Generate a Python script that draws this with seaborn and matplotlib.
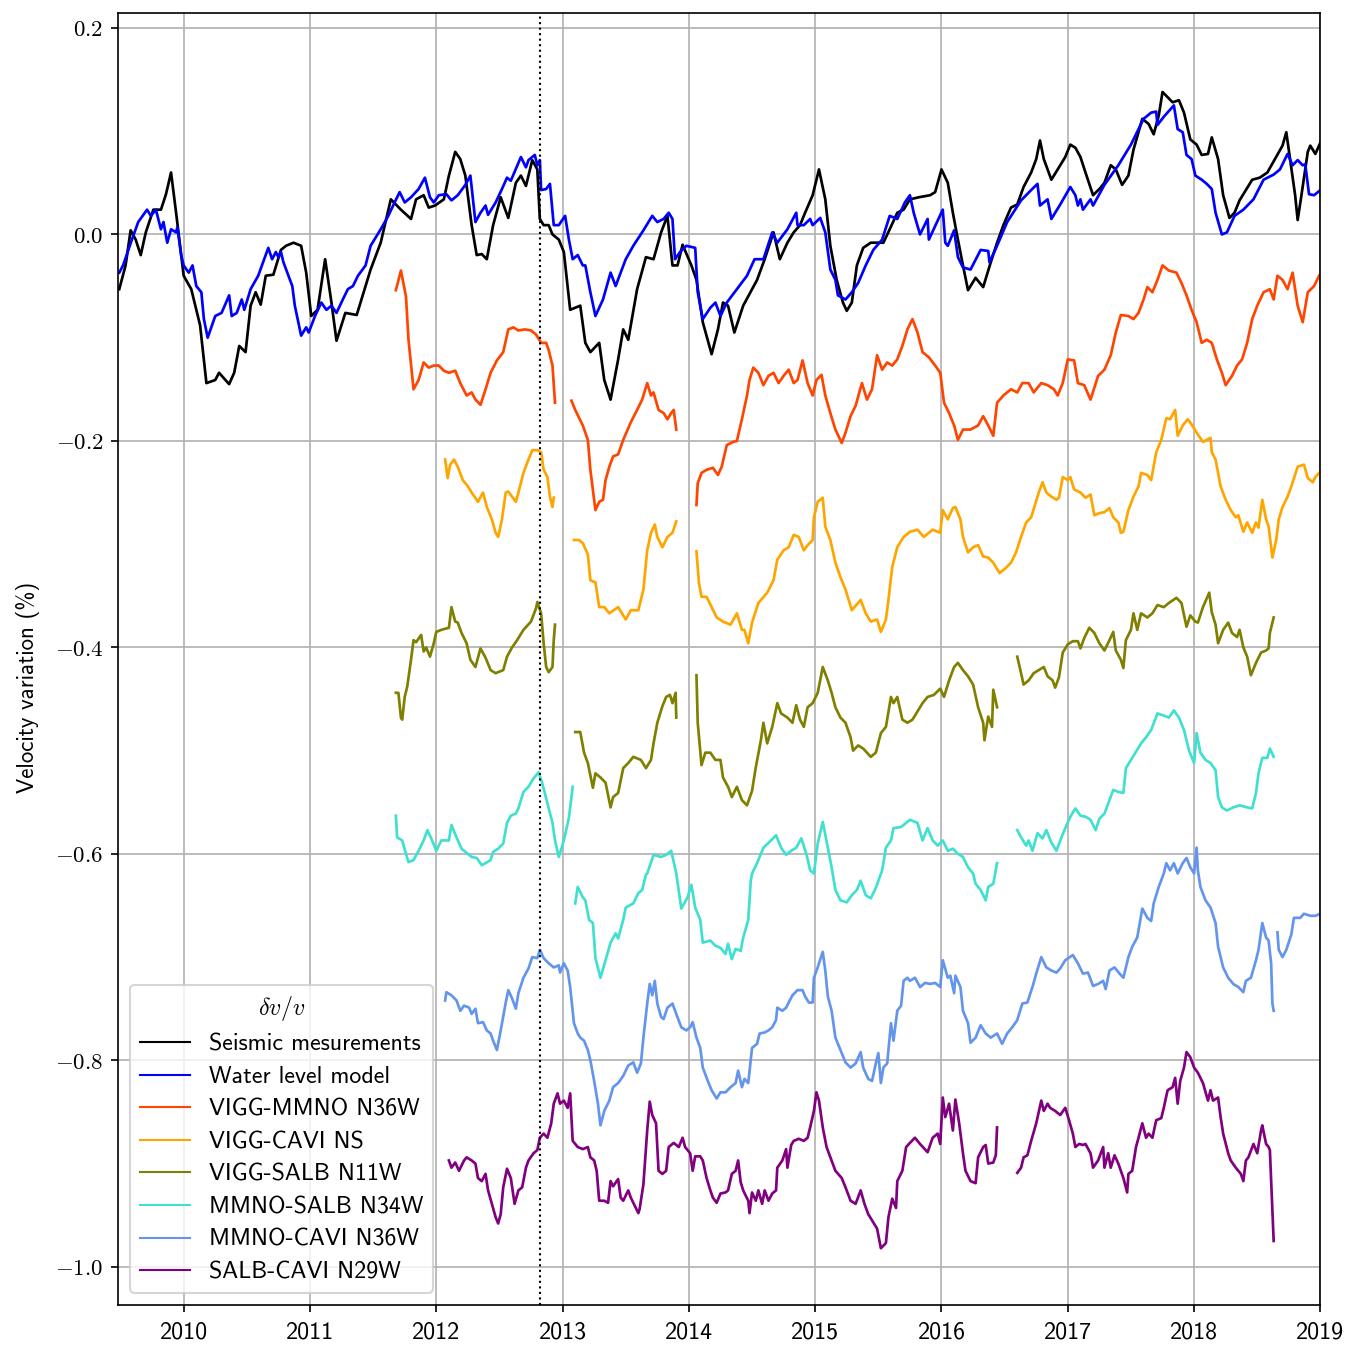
import matplotlib
matplotlib.use("Agg")
import matplotlib.pyplot as plt
from matplotlib.lines import Line2D
from matplotlib.ticker import FuncFormatter
import pandas as pd
import seaborn as sns

# ---------------- data (decimal year, dv/v %) ----------------
series_names = ["Seismic mesurements", "Water level model", "VIGG-MMNO N36W",
                "VIGG-CAVI NS", "VIGG-SALB N11W", "MMNO-SALB N34W",
                "MMNO-CAVI N36W", "SALB-CAVI N29W"]
series_colors = ["black", "blue", "orangered", "orange", "olive",
                 "turquoise", "cornflowerblue", "purple"]
x_ticks = [2010, 2011, 2012, 2013, 2014, 2015, 2016, 2017, 2018, 2019]
y_ticks = [-1.0, -0.8, -0.6, -0.4, -0.2, 0.0, 0.2]
event_year = 2012.82

seismic = [[
    (2009.49, -0.053), (2009.54, -0.030), (2009.58, 0.004), (2009.62, -0.005), (2009.66, -0.020),
    (2009.70, 0.002), (2009.76, 0.024), (2009.82, 0.024), (2009.86, 0.039), (2009.90, 0.060),
    (2009.94, 0.021), (2010.00, -0.040), (2010.06, -0.053), (2010.13, -0.088), (2010.18, -0.144),
    (2010.25, -0.141), (2010.28, -0.134), (2010.36, -0.145), (2010.40, -0.134), (2010.44, -0.108),
    (2010.49, -0.114), (2010.53, -0.069), (2010.57, -0.056), (2010.61, -0.068), (2010.65, -0.040),
    (2010.71, -0.039), (2010.77, -0.015), (2010.81, -0.011), (2010.87, -0.008), (2010.93, -0.011),
    (2010.97, -0.037), (2011.01, -0.079), (2011.06, -0.073), (2011.12, -0.024), (2011.17, -0.066),
    (2011.21, -0.103), (2011.28, -0.076), (2011.37, -0.078), (2011.44, -0.050), (2011.48, -0.034),
    (2011.56, -0.008), (2011.64, 0.034), (2011.72, 0.024), (2011.80, 0.015), (2011.84, 0.034),
    (2011.90, 0.038), (2011.94, 0.026), (2011.99, 0.028), (2012.06, 0.034), (2012.10, 0.057),
    (2012.15, 0.080), (2012.19, 0.073), (2012.23, 0.057), (2012.28, 0.009), (2012.32, -0.020),
    (2012.36, -0.019), (2012.40, -0.024), (2012.45, 0.009), (2012.51, 0.036), (2012.57, 0.016),
    (2012.63, 0.050), (2012.67, 0.057), (2012.71, 0.047), (2012.76, 0.072), (2012.80, 0.063),
    (2012.82, 0.015), (2012.85, 0.009), (2012.89, 0.009), (2012.92, 0.000), (2012.97, -0.005),
    (2013.01, -0.017), (2013.06, -0.073), (2013.14, -0.069), (2013.18, -0.105), (2013.22, -0.114),
    (2013.29, -0.105), (2013.33, -0.141), (2013.38, -0.160), (2013.44, -0.121), (2013.48, -0.092),
    (2013.52, -0.102), (2013.59, -0.053), (2013.66, -0.022), (2013.72, -0.024), (2013.78, 0.002),
    (2013.83, 0.018), (2013.87, -0.030), (2013.91, -0.030), (2013.95, -0.010), (2014.02, -0.030),
    (2014.06, -0.044), (2014.11, -0.085), (2014.18, -0.116), (2014.23, -0.092), (2014.27, -0.066),
    (2014.31, -0.069), (2014.36, -0.095), (2014.43, -0.069), (2014.54, -0.044), (2014.60, -0.024),
    (2014.67, 0.002), (2014.72, -0.024), (2014.78, -0.008), (2014.83, 0.002), (2014.88, 0.009),
    (2014.92, 0.021), (2014.98, 0.038), (2015.03, 0.063), (2015.08, 0.034), (2015.12, -0.011),
    (2015.17, -0.044), (2015.22, -0.066), (2015.25, -0.074), (2015.29, -0.066), (2015.33, -0.030),
    (2015.38, -0.013), (2015.44, -0.008), (2015.49, -0.008), (2015.54, -0.008), (2015.59, 0.005),
    (2015.65, 0.021), (2015.70, 0.024), (2015.75, 0.034), (2015.82, 0.036), (2015.91, 0.038),
    (2015.95, 0.041), (2016.00, 0.063), (2016.05, 0.050), (2016.09, 0.021), (2016.13, -0.005),
    (2016.17, -0.030), (2016.21, -0.054), (2016.27, -0.042), (2016.33, -0.051), (2016.39, -0.027),
    (2016.44, -0.008), (2016.49, 0.009), (2016.55, 0.026), (2016.60, 0.029), (2016.65, 0.046),
    (2016.71, 0.060), (2016.75, 0.073), (2016.78, 0.091), (2016.81, 0.073), (2016.87, 0.053),
    (2016.92, 0.063), (2016.98, 0.075), (2017.02, 0.087), (2017.06, 0.084), (2017.10, 0.075),
    (2017.14, 0.060), (2017.20, 0.038), (2017.25, 0.044), (2017.29, 0.050), (2017.34, 0.067),
    (2017.38, 0.063), (2017.43, 0.048), (2017.48, 0.057), (2017.52, 0.082), (2017.59, 0.112),
    (2017.64, 0.107), (2017.68, 0.097), (2017.72, 0.115), (2017.75, 0.138), (2017.79, 0.133),
    (2017.83, 0.128), (2017.88, 0.130), (2017.92, 0.118), (2017.97, 0.092), (2018.02, 0.087),
    (2018.06, 0.077), (2018.11, 0.078), (2018.14, 0.094), (2018.19, 0.073), (2018.23, 0.038),
    (2018.28, 0.016), (2018.32, 0.021), (2018.36, 0.033), (2018.40, 0.041), (2018.46, 0.053),
    (2018.52, 0.055), (2018.58, 0.060), (2018.64, 0.073), (2018.70, 0.086), (2018.73, 0.099),
    (2018.76, 0.073), (2018.80, 0.038), (2018.82, 0.014), (2018.85, 0.038), (2018.90, 0.080),
    (2018.92, 0.086), (2018.96, 0.078), (2019.00, 0.089)]]

water_model = [[
    (2009.49, -0.037), (2009.52, -0.030), (2009.59, -0.005), (2009.64, 0.012), (2009.71, 0.024),
    (2009.74, 0.018), (2009.78, 0.024), (2009.82, 0.005), (2009.84, 0.012), (2009.87, -0.008),
    (2009.90, 0.005), (2009.94, 0.002), (2009.95, 0.007), (2009.98, -0.020), (2010.00, -0.030),
    (2010.04, -0.037), (2010.07, -0.030), (2010.10, -0.050), (2010.14, -0.056), (2010.16, -0.082),
    (2010.19, -0.100), (2010.25, -0.079), (2010.30, -0.076), (2010.36, -0.059), (2010.38, -0.079),
    (2010.42, -0.076), (2010.46, -0.063), (2010.48, -0.073), (2010.53, -0.053), (2010.59, -0.040),
    (2010.67, -0.013), (2010.70, -0.024), (2010.73, -0.017), (2010.75, -0.022), (2010.77, -0.017),
    (2010.79, -0.027), (2010.83, -0.040), (2010.86, -0.050), (2010.88, -0.069), (2010.93, -0.098),
    (2010.97, -0.090), (2010.99, -0.095), (2011.04, -0.079), (2011.09, -0.066), (2011.13, -0.073),
    (2011.17, -0.069), (2011.21, -0.076), (2011.26, -0.063), (2011.30, -0.053), (2011.34, -0.050),
    (2011.38, -0.040), (2011.44, -0.030), (2011.48, -0.011), (2011.56, 0.005), (2011.62, 0.018),
    (2011.67, 0.031), (2011.71, 0.041), (2011.75, 0.031), (2011.80, 0.036), (2011.86, 0.044),
    (2011.91, 0.055), (2011.95, 0.036), (2011.98, 0.031), (2012.02, 0.038), (2012.08, 0.039),
    (2012.12, 0.033), (2012.17, 0.038), (2012.23, 0.048), (2012.27, 0.057), (2012.29, 0.034),
    (2012.31, 0.012), (2012.35, 0.021), (2012.39, 0.028), (2012.41, 0.019), (2012.47, 0.031),
    (2012.52, 0.044), (2012.56, 0.055), (2012.59, 0.052), (2012.67, 0.075), (2012.71, 0.065),
    (2012.73, 0.072), (2012.78, 0.077), (2012.80, 0.067), (2012.82, 0.072), (2012.83, 0.043),
    (2012.87, 0.044), (2012.90, 0.049), (2012.93, 0.009), (2012.97, 0.009), (2013.02, 0.018),
    (2013.05, -0.005), (2013.08, -0.024), (2013.12, -0.020), (2013.16, -0.030), (2013.18, -0.030),
    (2013.22, -0.056), (2013.26, -0.079), (2013.32, -0.063), (2013.38, -0.037), (2013.42, -0.050),
    (2013.50, -0.024), (2013.56, -0.011), (2013.64, 0.004), (2013.71, 0.018), (2013.75, 0.012),
    (2013.80, 0.015), (2013.84, 0.021), (2013.87, 0.015), (2013.89, -0.024), (2013.93, -0.017),
    (2013.98, -0.011), (2014.05, -0.013), (2014.07, -0.056), (2014.11, -0.082), (2014.17, -0.071),
    (2014.21, -0.066), (2014.25, -0.079), (2014.30, -0.066), (2014.38, -0.053), (2014.46, -0.040),
    (2014.52, -0.024), (2014.59, -0.024), (2014.66, 0.002), (2014.70, -0.008), (2014.78, 0.005),
    (2014.85, 0.021), (2014.86, 0.009), (2014.91, 0.009), (2014.96, 0.015), (2014.98, 0.009),
    (2015.04, 0.016), (2015.08, 0.002), (2015.12, -0.034), (2015.16, -0.044), (2015.18, -0.059),
    (2015.24, -0.063), (2015.29, -0.056), (2015.34, -0.047), (2015.40, -0.030), (2015.46, -0.015),
    (2015.53, -0.005), (2015.59, 0.018), (2015.65, 0.015), (2015.71, 0.031), (2015.75, 0.038),
    (2015.78, 0.021), (2015.83, 0.000), (2015.89, 0.015), (2015.90, -0.005), (2016.01, 0.024),
    (2016.03, -0.008), (2016.05, -0.011), (2016.10, 0.004), (2016.13, -0.022), (2016.17, -0.032),
    (2016.23, -0.034), (2016.31, -0.015), (2016.37, -0.016), (2016.38, -0.027), (2016.44, -0.011),
    (2016.52, 0.012), (2016.63, 0.033), (2016.71, 0.043), (2016.76, 0.049), (2016.78, 0.028),
    (2016.84, 0.034), (2016.87, 0.015), (2016.94, 0.029), (2017.02, 0.046), (2017.06, 0.038),
    (2017.08, 0.028), (2017.10, 0.034), (2017.12, 0.024), (2017.18, 0.034), (2017.20, 0.028),
    (2017.29, 0.048), (2017.40, 0.067), (2017.50, 0.087), (2017.60, 0.112), (2017.66, 0.118),
    (2017.70, 0.119), (2017.71, 0.106), (2017.76, 0.114), (2017.84, 0.125), (2017.87, 0.102),
    (2017.91, 0.099), (2017.94, 0.077), (2017.98, 0.073), (2018.01, 0.057), (2018.06, 0.053),
    (2018.10, 0.049), (2018.14, 0.044), (2018.17, 0.021), (2018.22, 0.000), (2018.26, 0.002),
    (2018.32, 0.018), (2018.39, 0.024), (2018.47, 0.034), (2018.55, 0.053), (2018.63, 0.058),
    (2018.68, 0.063), (2018.74, 0.078), (2018.78, 0.067), (2018.82, 0.072), (2018.86, 0.067),
    (2018.88, 0.068), (2018.91, 0.039), (2018.95, 0.038), (2019.00, 0.043)]]

vigg_mmno = [
    [(2011.68, -0.054), (2011.72, -0.035), (2011.76, -0.060), (2011.78, -0.102), (2011.82, -0.150),
     (2011.86, -0.141), (2011.90, -0.124), (2011.94, -0.129), (2011.98, -0.127), (2012.02, -0.127),
     (2012.06, -0.132), (2012.10, -0.134), (2012.15, -0.132), (2012.19, -0.144), (2012.24, -0.156),
     (2012.28, -0.153), (2012.31, -0.160), (2012.35, -0.165), (2012.39, -0.150), (2012.43, -0.134),
     (2012.48, -0.122), (2012.53, -0.114), (2012.57, -0.092), (2012.61, -0.090), (2012.65, -0.093),
     (2012.70, -0.092), (2012.75, -0.093), (2012.79, -0.097), (2012.83, -0.105), (2012.87, -0.105),
     (2012.89, -0.112), (2012.92, -0.127), (2012.94, -0.163)],
    [(2013.07, -0.161), (2013.10, -0.170), (2013.16, -0.185), (2013.20, -0.199), (2013.22, -0.228),
     (2013.26, -0.267), (2013.29, -0.259), (2013.32, -0.257), (2013.34, -0.238), (2013.37, -0.225),
     (2013.40, -0.215), (2013.44, -0.213), (2013.48, -0.199), (2013.54, -0.182), (2013.59, -0.170),
     (2013.63, -0.160), (2013.67, -0.144), (2013.70, -0.156), (2013.72, -0.153), (2013.76, -0.170),
     (2013.80, -0.173), (2013.83, -0.179), (2013.86, -0.173), (2013.88, -0.170), (2013.90, -0.189)],
    [(2014.06, -0.262), (2014.07, -0.241), (2014.10, -0.231), (2014.14, -0.228), (2014.19, -0.226),
     (2014.23, -0.233), (2014.26, -0.225), (2014.30, -0.204), (2014.35, -0.201), (2014.38, -0.200),
     (2014.42, -0.179), (2014.46, -0.156), (2014.48, -0.141), (2014.51, -0.129), (2014.55, -0.134),
     (2014.59, -0.146), (2014.63, -0.137), (2014.67, -0.134), (2014.71, -0.144), (2014.75, -0.137),
     (2014.79, -0.131), (2014.83, -0.144), (2014.86, -0.141), (2014.90, -0.122), (2014.94, -0.144),
     (2014.98, -0.156), (2015.01, -0.141), (2015.05, -0.136), (2015.08, -0.156), (2015.12, -0.173),
     (2015.16, -0.189), (2015.21, -0.202), (2015.24, -0.192), (2015.28, -0.176), (2015.32, -0.166),
     (2015.37, -0.144), (2015.41, -0.160), (2015.45, -0.150), (2015.49, -0.117), (2015.53, -0.131),
     (2015.57, -0.124), (2015.61, -0.127), (2015.65, -0.121), (2015.69, -0.108), (2015.73, -0.092),
     (2015.77, -0.082), (2015.81, -0.095), (2015.85, -0.114), (2015.90, -0.119), (2015.95, -0.127),
     (2015.99, -0.134), (2016.02, -0.163), (2016.06, -0.173), (2016.10, -0.185), (2016.13, -0.199),
     (2016.17, -0.189), (2016.23, -0.189), (2016.29, -0.185), (2016.33, -0.176), (2016.37, -0.185),
     (2016.41, -0.195), (2016.44, -0.163), (2016.49, -0.156), (2016.55, -0.150), (2016.60, -0.153),
     (2016.64, -0.144), (2016.69, -0.144), (2016.73, -0.153), (2016.79, -0.144), (2016.84, -0.146),
     (2016.89, -0.150), (2016.92, -0.156), (2016.96, -0.144), (2017.00, -0.121), (2017.05, -0.122),
     (2017.08, -0.144), (2017.13, -0.146), (2017.18, -0.160), (2017.24, -0.137), (2017.29, -0.131),
     (2017.34, -0.117), (2017.38, -0.095), (2017.42, -0.078), (2017.48, -0.079), (2017.52, -0.082),
     (2017.56, -0.076), (2017.60, -0.063), (2017.63, -0.051), (2017.67, -0.056), (2017.71, -0.044),
     (2017.75, -0.030), (2017.80, -0.035), (2017.86, -0.037), (2017.90, -0.047), (2017.94, -0.059),
     (2017.98, -0.073), (2018.02, -0.085), (2018.06, -0.105), (2018.10, -0.102), (2018.14, -0.105),
     (2018.18, -0.121), (2018.22, -0.134), (2018.25, -0.146), (2018.30, -0.137), (2018.34, -0.127),
     (2018.38, -0.121), (2018.42, -0.105), (2018.46, -0.082), (2018.50, -0.069), (2018.55, -0.056),
     (2018.60, -0.053), (2018.63, -0.063), (2018.66, -0.040), (2018.70, -0.044), (2018.74, -0.053),
     (2018.78, -0.037), (2018.82, -0.069), (2018.86, -0.085), (2018.90, -0.056), (2018.95, -0.050),
     (2018.99, -0.040)]]

vigg_cavi = [
    [(2012.07, -0.218), (2012.09, -0.236), (2012.11, -0.223), (2012.14, -0.218), (2012.17, -0.225),
     (2012.21, -0.238), (2012.25, -0.244), (2012.28, -0.250), (2012.33, -0.259), (2012.37, -0.250),
     (2012.40, -0.264), (2012.44, -0.276), (2012.47, -0.289), (2012.49, -0.293), (2012.52, -0.276),
     (2012.55, -0.250), (2012.57, -0.249), (2012.63, -0.259), (2012.65, -0.250), (2012.69, -0.231),
     (2012.73, -0.218), (2012.76, -0.209), (2012.80, -0.209), (2012.83, -0.211), (2012.85, -0.228),
     (2012.88, -0.235), (2012.90, -0.254), (2012.92, -0.264), (2012.93, -0.255)],
    [(2013.09, -0.296), (2013.13, -0.296), (2013.16, -0.299), (2013.20, -0.310), (2013.22, -0.335),
     (2013.26, -0.337), (2013.29, -0.361), (2013.33, -0.361), (2013.37, -0.367), (2013.44, -0.361),
     (2013.50, -0.373), (2013.54, -0.364), (2013.60, -0.364), (2013.64, -0.344), (2013.67, -0.306),
     (2013.70, -0.289), (2013.73, -0.281), (2013.75, -0.293), (2013.79, -0.303), (2013.83, -0.293),
     (2013.87, -0.289), (2013.90, -0.278)],
    [(2014.06, -0.307), (2014.08, -0.338), (2014.10, -0.351), (2014.14, -0.351), (2014.18, -0.361),
     (2014.22, -0.371), (2014.27, -0.375), (2014.33, -0.378), (2014.38, -0.367), (2014.42, -0.383),
     (2014.44, -0.383), (2014.47, -0.396), (2014.50, -0.376), (2014.55, -0.357), (2014.62, -0.347),
     (2014.67, -0.335), (2014.70, -0.315), (2014.75, -0.306), (2014.79, -0.303), (2014.83, -0.291),
     (2014.87, -0.293), (2014.91, -0.306), (2014.94, -0.301), (2014.98, -0.296), (2014.99, -0.274),
     (2015.02, -0.259), (2015.06, -0.255), (2015.08, -0.283), (2015.12, -0.296), (2015.16, -0.318),
     (2015.20, -0.332), (2015.24, -0.344), (2015.29, -0.364), (2015.36, -0.354), (2015.40, -0.367),
     (2015.44, -0.375), (2015.49, -0.373), (2015.52, -0.385), (2015.56, -0.373), (2015.58, -0.354),
     (2015.61, -0.322), (2015.65, -0.303), (2015.70, -0.293), (2015.75, -0.288), (2015.81, -0.286),
     (2015.86, -0.293), (2015.93, -0.286), (2015.99, -0.289), (2016.01, -0.267), (2016.05, -0.276),
     (2016.09, -0.265), (2016.11, -0.264), (2016.15, -0.276), (2016.17, -0.293), (2016.21, -0.308),
     (2016.25, -0.303), (2016.29, -0.301), (2016.33, -0.312), (2016.37, -0.313), (2016.41, -0.318),
     (2016.46, -0.328), (2016.51, -0.323), (2016.55, -0.318), (2016.59, -0.308), (2016.63, -0.293),
     (2016.67, -0.279), (2016.71, -0.274), (2016.77, -0.250), (2016.80, -0.240), (2016.83, -0.250),
     (2016.87, -0.254), (2016.91, -0.257), (2016.93, -0.255), (2016.96, -0.235), (2017.00, -0.238),
     (2017.02, -0.235), (2017.05, -0.247), (2017.10, -0.250), (2017.14, -0.255), (2017.18, -0.252),
     (2017.21, -0.272), (2017.25, -0.270), (2017.29, -0.269), (2017.33, -0.265), (2017.36, -0.274),
     (2017.40, -0.279), (2017.42, -0.289), (2017.44, -0.288), (2017.48, -0.267), (2017.52, -0.254),
     (2017.56, -0.244), (2017.58, -0.231), (2017.63, -0.233), (2017.66, -0.238), (2017.70, -0.211),
     (2017.74, -0.199), (2017.78, -0.178), (2017.81, -0.179), (2017.85, -0.170), (2017.87, -0.195),
     (2017.91, -0.185), (2017.95, -0.179), (2017.98, -0.184), (2018.02, -0.192), (2018.07, -0.201),
     (2018.13, -0.197), (2018.14, -0.211), (2018.17, -0.218), (2018.21, -0.244), (2018.25, -0.257),
     (2018.29, -0.267), (2018.33, -0.274), (2018.35, -0.272), (2018.39, -0.288), (2018.42, -0.279),
     (2018.46, -0.289), (2018.49, -0.279), (2018.51, -0.284), (2018.54, -0.257), (2018.57, -0.276),
     (2018.59, -0.283), (2018.62, -0.313), (2018.65, -0.296), (2018.67, -0.276), (2018.70, -0.264),
     (2018.74, -0.254), (2018.77, -0.244), (2018.82, -0.225), (2018.87, -0.223), (2018.90, -0.236),
     (2018.94, -0.240), (2018.96, -0.235), (2018.99, -0.231)]]

vigg_salb = [
    [(2011.68, -0.444), (2011.70, -0.444), (2011.72, -0.468), (2011.73, -0.470), (2011.75, -0.448),
     (2011.77, -0.438), (2011.80, -0.412), (2011.82, -0.393), (2011.84, -0.395), (2011.88, -0.388),
     (2011.90, -0.404), (2011.92, -0.400), (2011.95, -0.409), (2011.98, -0.396), (2012.00, -0.385),
     (2012.04, -0.383), (2012.10, -0.381), (2012.12, -0.361), (2012.15, -0.375), (2012.17, -0.376),
     (2012.20, -0.386), (2012.24, -0.396), (2012.27, -0.412), (2012.31, -0.419), (2012.35, -0.401),
     (2012.39, -0.410), (2012.43, -0.422), (2012.47, -0.425), (2012.53, -0.422), (2012.56, -0.409),
     (2012.60, -0.400), (2012.64, -0.393), (2012.69, -0.383), (2012.75, -0.375), (2012.79, -0.362),
     (2012.80, -0.356), (2012.83, -0.367), (2012.85, -0.396), (2012.87, -0.419), (2012.89, -0.424),
     (2012.92, -0.419), (2012.93, -0.393), (2012.94, -0.378)],
    [(2013.10, -0.482), (2013.14, -0.482), (2013.17, -0.502), (2013.20, -0.512), (2013.24, -0.536),
     (2013.26, -0.522), (2013.30, -0.526), (2013.34, -0.531), (2013.38, -0.555), (2013.40, -0.545),
     (2013.44, -0.541), (2013.48, -0.517), (2013.52, -0.512), (2013.56, -0.506), (2013.62, -0.509),
     (2013.66, -0.517), (2013.70, -0.509), (2013.72, -0.493), (2013.75, -0.473), (2013.79, -0.457),
     (2013.82, -0.448), (2013.85, -0.446), (2013.87, -0.454), (2013.895, -0.444), (2013.90, -0.468)],
    [(2014.06, -0.427), (2014.07, -0.473), (2014.10, -0.514), (2014.13, -0.502), (2014.17, -0.502),
     (2014.21, -0.509), (2014.25, -0.509), (2014.27, -0.526), (2014.31, -0.535), (2014.34, -0.545),
     (2014.38, -0.535), (2014.42, -0.548), (2014.46, -0.553), (2014.50, -0.539), (2014.53, -0.516),
     (2014.57, -0.490), (2014.59, -0.473), (2014.62, -0.493), (2014.66, -0.477), (2014.70, -0.454),
     (2014.73, -0.464), (2014.78, -0.468), (2014.82, -0.473), (2014.85, -0.456), (2014.88, -0.470),
     (2014.91, -0.477), (2014.94, -0.458), (2014.98, -0.454), (2015.02, -0.444), (2015.06, -0.419),
     (2015.10, -0.432), (2015.13, -0.444), (2015.16, -0.458), (2015.20, -0.468), (2015.24, -0.473),
     (2015.28, -0.487), (2015.30, -0.500), (2015.34, -0.495), (2015.38, -0.498), (2015.44, -0.506),
     (2015.48, -0.502), (2015.52, -0.483), (2015.56, -0.477), (2015.60, -0.448), (2015.62, -0.454),
     (2015.65, -0.448), (2015.69, -0.470), (2015.73, -0.473), (2015.77, -0.470), (2015.80, -0.464),
     (2015.85, -0.454), (2015.89, -0.448), (2015.94, -0.446), (2015.99, -0.440), (2016.02, -0.448),
     (2016.06, -0.432), (2016.10, -0.419), (2016.13, -0.415), (2016.17, -0.422), (2016.21, -0.428),
     (2016.25, -0.436), (2016.29, -0.458), (2016.33, -0.473), (2016.34, -0.490), (2016.37, -0.467),
     (2016.40, -0.477), (2016.41, -0.441), (2016.44, -0.458)],
    [(2016.60, -0.409), (2016.63, -0.425), (2016.65, -0.436), (2016.69, -0.432), (2016.73, -0.425),
     (2016.77, -0.422), (2016.81, -0.419), (2016.84, -0.428), (2016.88, -0.432), (2016.90, -0.439),
     (2016.93, -0.429), (2016.96, -0.405), (2017.00, -0.397), (2017.04, -0.394), (2017.08, -0.394),
     (2017.10, -0.401), (2017.13, -0.391), (2017.17, -0.381), (2017.21, -0.386), (2017.25, -0.396),
     (2017.29, -0.403), (2017.33, -0.393), (2017.36, -0.385), (2017.38, -0.403), (2017.42, -0.412),
     (2017.44, -0.420), (2017.46, -0.393), (2017.50, -0.383), (2017.52, -0.367), (2017.55, -0.383),
     (2017.58, -0.367), (2017.63, -0.371), (2017.67, -0.367), (2017.71, -0.359), (2017.76, -0.361),
     (2017.80, -0.357), (2017.86, -0.352), (2017.90, -0.357), (2017.94, -0.380), (2017.97, -0.369),
     (2018.01, -0.375), (2018.03, -0.376), (2018.07, -0.361), (2018.12, -0.347), (2018.14, -0.366),
     (2018.17, -0.378), (2018.19, -0.396), (2018.23, -0.383), (2018.27, -0.376), (2018.30, -0.386),
     (2018.34, -0.390), (2018.36, -0.383), (2018.39, -0.400), (2018.42, -0.409), (2018.45, -0.427),
     (2018.49, -0.415), (2018.53, -0.405), (2018.57, -0.403), (2018.59, -0.401), (2018.60, -0.386),
     (2018.63, -0.371)]]

mmno_salb = [
    [(2011.68, -0.563), (2011.69, -0.584), (2011.73, -0.587), (2011.76, -0.600), (2011.78, -0.608),
     (2011.82, -0.606), (2011.86, -0.597), (2011.90, -0.587), (2011.93, -0.577), (2011.96, -0.585),
     (2012.00, -0.597), (2012.04, -0.587), (2012.10, -0.587), (2012.12, -0.572), (2012.16, -0.584),
     (2012.20, -0.595), (2012.25, -0.600), (2012.28, -0.603), (2012.32, -0.604), (2012.36, -0.611),
     (2012.39, -0.609), (2012.43, -0.606), (2012.45, -0.598), (2012.49, -0.595), (2012.53, -0.590),
     (2012.56, -0.570), (2012.59, -0.563), (2012.63, -0.561), (2012.65, -0.556), (2012.69, -0.540),
     (2012.73, -0.535), (2012.77, -0.527), (2012.81, -0.521), (2012.84, -0.532), (2012.88, -0.551),
     (2012.92, -0.570), (2012.94, -0.587), (2012.97, -0.603), (2013.01, -0.587), (2013.05, -0.565),
     (2013.08, -0.535)],
    [(2013.10, -0.648), (2013.12, -0.632), (2013.16, -0.642), (2013.18, -0.645), (2013.21, -0.664),
     (2013.24, -0.667), (2013.26, -0.701), (2013.30, -0.720), (2013.34, -0.703), (2013.38, -0.686),
     (2013.42, -0.677), (2013.44, -0.682), (2013.48, -0.664), (2013.50, -0.652), (2013.56, -0.648),
     (2013.60, -0.638), (2013.63, -0.635), (2013.66, -0.620), (2013.67, -0.619), (2013.72, -0.601),
     (2013.78, -0.603), (2013.82, -0.601), (2013.86, -0.597), (2013.90, -0.619), (2013.94, -0.653),
     (2013.99, -0.642), (2014.02, -0.630), (2014.05, -0.652), (2014.09, -0.664), (2014.11, -0.686),
     (2014.17, -0.684), (2014.21, -0.689), (2014.25, -0.691), (2014.29, -0.697), (2014.31, -0.687),
     (2014.34, -0.702), (2014.37, -0.692), (2014.41, -0.694), (2014.43, -0.681), (2014.47, -0.664),
     (2014.49, -0.626), (2014.50, -0.619), (2014.54, -0.609), (2014.59, -0.594), (2014.65, -0.587),
     (2014.69, -0.582), (2014.73, -0.594), (2014.77, -0.601), (2014.81, -0.597), (2014.85, -0.594),
     (2014.89, -0.585), (2014.93, -0.600), (2014.96, -0.616), (2014.99, -0.619), (2015.02, -0.590),
     (2015.06, -0.569), (2015.10, -0.594), (2015.13, -0.613), (2015.16, -0.635), (2015.20, -0.645),
     (2015.25, -0.647), (2015.29, -0.640), (2015.33, -0.635), (2015.36, -0.626), (2015.40, -0.640),
     (2015.44, -0.643), (2015.48, -0.633), (2015.53, -0.616), (2015.56, -0.594), (2015.60, -0.587),
     (2015.62, -0.575), (2015.68, -0.574), (2015.72, -0.570), (2015.75, -0.567), (2015.81, -0.570),
     (2015.85, -0.587), (2015.89, -0.575), (2015.93, -0.587), (2015.97, -0.592), (2016.01, -0.587),
     (2016.05, -0.597), (2016.09, -0.595), (2016.13, -0.600), (2016.17, -0.603), (2016.21, -0.613),
     (2016.25, -0.619), (2016.27, -0.629), (2016.31, -0.635), (2016.35, -0.645), (2016.37, -0.632),
     (2016.41, -0.629), (2016.44, -0.609)],
    [(2016.60, -0.577), (2016.63, -0.584), (2016.67, -0.592), (2016.69, -0.587), (2016.72, -0.597),
     (2016.76, -0.580), (2016.80, -0.585), (2016.83, -0.577), (2016.87, -0.589), (2016.91, -0.597),
     (2016.94, -0.587), (2016.98, -0.575), (2017.02, -0.564), (2017.06, -0.556), (2017.10, -0.563),
     (2017.14, -0.564), (2017.18, -0.567), (2017.22, -0.577), (2017.25, -0.566), (2017.29, -0.561),
     (2017.33, -0.548), (2017.36, -0.538), (2017.40, -0.540), (2017.44, -0.541), (2017.46, -0.517),
     (2017.50, -0.509), (2017.54, -0.501), (2017.58, -0.493), (2017.62, -0.487), (2017.66, -0.480),
     (2017.71, -0.464), (2017.76, -0.466), (2017.80, -0.468), (2017.84, -0.461), (2017.88, -0.468),
     (2017.92, -0.480), (2017.96, -0.500), (2018.00, -0.512), (2018.02, -0.483), (2018.05, -0.502),
     (2018.09, -0.509), (2018.13, -0.512), (2018.17, -0.519), (2018.19, -0.545), (2018.22, -0.555),
     (2018.26, -0.558), (2018.31, -0.555), (2018.36, -0.553), (2018.42, -0.555), (2018.46, -0.556),
     (2018.49, -0.541), (2018.51, -0.522), (2018.54, -0.507), (2018.58, -0.507), (2018.60, -0.498),
     (2018.63, -0.506)]]

mmno_cavi = [
    [(2012.07, -0.742), (2012.08, -0.734), (2012.12, -0.737), (2012.16, -0.742), (2012.19, -0.752),
     (2012.22, -0.747), (2012.26, -0.749), (2012.28, -0.755), (2012.31, -0.750), (2012.33, -0.764),
     (2012.37, -0.763), (2012.40, -0.771), (2012.43, -0.774), (2012.45, -0.781), (2012.48, -0.790),
     (2012.51, -0.771), (2012.55, -0.744), (2012.57, -0.732), (2012.60, -0.740), (2012.63, -0.750),
     (2012.65, -0.735), (2012.69, -0.720), (2012.73, -0.711), (2012.76, -0.700), (2012.80, -0.701),
     (2012.82, -0.693), (2012.85, -0.701), (2012.89, -0.706), (2012.93, -0.710), (2012.97, -0.708),
     (2012.98, -0.715), (2013.01, -0.706), (2013.04, -0.713), (2013.06, -0.729), (2013.09, -0.764),
     (2013.12, -0.774), (2013.14, -0.778), (2013.17, -0.781), (2013.20, -0.790), (2013.22, -0.800),
     (2013.25, -0.820), (2013.28, -0.842), (2013.30, -0.863), (2013.33, -0.849), (2013.37, -0.839),
     (2013.40, -0.826), (2013.44, -0.822), (2013.48, -0.815), (2013.52, -0.805), (2013.56, -0.802),
     (2013.59, -0.812), (2013.62, -0.803), (2013.64, -0.778), (2013.67, -0.745), (2013.69, -0.726),
     (2013.71, -0.737), (2013.73, -0.723), (2013.75, -0.745), (2013.78, -0.758), (2013.80, -0.760),
     (2013.83, -0.749), (2013.87, -0.745), (2013.90, -0.755), (2013.94, -0.768), (2013.98, -0.771),
     (2014.01, -0.768), (2014.03, -0.763), (2014.06, -0.778), (2014.09, -0.788), (2014.11, -0.807),
     (2014.15, -0.820), (2014.18, -0.829), (2014.22, -0.837), (2014.25, -0.831), (2014.29, -0.831),
     (2014.33, -0.826), (2014.37, -0.822), (2014.39, -0.810), (2014.42, -0.826), (2014.44, -0.818),
     (2014.47, -0.822), (2014.50, -0.788), (2014.54, -0.784), (2014.56, -0.774), (2014.60, -0.773),
     (2014.63, -0.771), (2014.66, -0.768), (2014.69, -0.761), (2014.70, -0.749), (2014.74, -0.752),
     (2014.77, -0.749), (2014.79, -0.744), (2014.82, -0.737), (2014.86, -0.732), (2014.90, -0.732),
     (2014.92, -0.738), (2014.95, -0.744), (2014.98, -0.744), (2014.99, -0.720), (2015.02, -0.710),
     (2015.03, -0.706), (2015.06, -0.695), (2015.08, -0.713), (2015.10, -0.738), (2015.13, -0.752),
     (2015.16, -0.778), (2015.20, -0.790), (2015.24, -0.802), (2015.28, -0.807), (2015.32, -0.803),
     (2015.36, -0.792), (2015.38, -0.807), (2015.42, -0.818), (2015.45, -0.820), (2015.48, -0.803),
     (2015.50, -0.793), (2015.52, -0.822), (2015.54, -0.807), (2015.57, -0.803), (2015.60, -0.764),
     (2015.62, -0.781), (2015.65, -0.752), (2015.68, -0.747), (2015.70, -0.723), (2015.73, -0.720),
     (2015.75, -0.723), (2015.79, -0.720), (2015.83, -0.729), (2015.87, -0.725), (2015.91, -0.726),
     (2015.95, -0.725), (2015.99, -0.729), (2016.01, -0.703), (2016.05, -0.720), (2016.07, -0.718),
     (2016.10, -0.735), (2016.11, -0.718), (2016.15, -0.729), (2016.17, -0.752), (2016.21, -0.764),
     (2016.23, -0.783), (2016.27, -0.778), (2016.31, -0.766), (2016.35, -0.774), (2016.39, -0.778),
     (2016.44, -0.774), (2016.48, -0.784), (2016.52, -0.774), (2016.56, -0.768), (2016.60, -0.761),
     (2016.64, -0.745), (2016.68, -0.744), (2016.72, -0.729), (2016.75, -0.716), (2016.79, -0.700),
     (2016.83, -0.710), (2016.87, -0.713), (2016.91, -0.715), (2016.94, -0.711), (2016.98, -0.703),
     (2017.04, -0.698), (2017.08, -0.706), (2017.12, -0.716), (2017.16, -0.715), (2017.20, -0.728),
     (2017.24, -0.726), (2017.28, -0.723), (2017.30, -0.731), (2017.33, -0.713), (2017.37, -0.710),
     (2017.41, -0.716), (2017.44, -0.720), (2017.48, -0.700), (2017.51, -0.690), (2017.55, -0.681),
     (2017.59, -0.653), (2017.63, -0.662), (2017.66, -0.665), (2017.68, -0.648), (2017.72, -0.632),
     (2017.76, -0.619), (2017.78, -0.609), (2017.81, -0.616), (2017.84, -0.609), (2017.87, -0.619),
     (2017.91, -0.609), (2017.94, -0.604), (2017.97, -0.613), (2018.00, -0.619), (2018.02, -0.594),
     (2018.03, -0.616), (2018.05, -0.632), (2018.09, -0.645), (2018.13, -0.652), (2018.17, -0.667),
     (2018.19, -0.690), (2018.23, -0.710), (2018.27, -0.720), (2018.31, -0.726), (2018.35, -0.729),
     (2018.39, -0.734), (2018.41, -0.723), (2018.45, -0.720), (2018.49, -0.703), (2018.51, -0.693),
     (2018.54, -0.667), (2018.57, -0.681), (2018.59, -0.684), (2018.61, -0.706), (2018.62, -0.745),
     (2018.63, -0.752)],
    [(2018.66, -0.676), (2018.67, -0.693), (2018.70, -0.700), (2018.73, -0.693), (2018.77, -0.678),
     (2018.79, -0.662), (2018.84, -0.662), (2018.87, -0.658), (2018.92, -0.660), (2018.96, -0.660),
     (2019.00, -0.658)]]

salb_cavi = [
    [(2012.10, -0.897), (2012.12, -0.904), (2012.15, -0.899), (2012.18, -0.907), (2012.22, -0.897),
     (2012.24, -0.894), (2012.28, -0.897), (2012.31, -0.900), (2012.33, -0.914), (2012.36, -0.917),
     (2012.39, -0.910), (2012.41, -0.926), (2012.44, -0.939), (2012.47, -0.952), (2012.49, -0.958),
     (2012.51, -0.949), (2012.53, -0.923), (2012.56, -0.905), (2012.59, -0.914), (2012.62, -0.939),
     (2012.65, -0.926), (2012.68, -0.923), (2012.71, -0.904), (2012.73, -0.897), (2012.77, -0.890),
     (2012.80, -0.887), (2012.82, -0.875), (2012.85, -0.871), (2012.88, -0.875), (2012.91, -0.861),
     (2012.93, -0.842), (2012.96, -0.832), (2012.98, -0.842), (2013.01, -0.839), (2013.04, -0.846),
     (2013.06, -0.832), (2013.08, -0.878), (2013.12, -0.884), (2013.16, -0.886), (2013.20, -0.884),
     (2013.22, -0.894), (2013.25, -0.897), (2013.27, -0.907), (2013.29, -0.936), (2013.33, -0.936),
     (2013.36, -0.938), (2013.38, -0.917), (2013.40, -0.922), (2013.44, -0.915), (2013.46, -0.933),
     (2013.48, -0.936), (2013.52, -0.926), (2013.54, -0.933), (2013.56, -0.938), (2013.60, -0.948),
     (2013.61, -0.944), (2013.64, -0.920), (2013.67, -0.868), (2013.69, -0.840), (2013.71, -0.853),
     (2013.74, -0.861), (2013.76, -0.907), (2013.79, -0.910), (2013.82, -0.907), (2013.84, -0.884),
     (2013.88, -0.880), (2013.92, -0.884), (2013.95, -0.875), (2013.97, -0.884), (2014.01, -0.890),
     (2014.03, -0.907), (2014.05, -0.893), (2014.09, -0.893), (2014.11, -0.897), (2014.14, -0.914),
     (2014.17, -0.926), (2014.19, -0.933), (2014.22, -0.938), (2014.25, -0.929), (2014.29, -0.928),
     (2014.31, -0.926), (2014.34, -0.910), (2014.37, -0.907), (2014.39, -0.897), (2014.41, -0.918),
     (2014.43, -0.926), (2014.47, -0.936), (2014.48, -0.948), (2014.50, -0.928), (2014.53, -0.936),
     (2014.55, -0.926), (2014.58, -0.939), (2014.60, -0.926), (2014.63, -0.936), (2014.66, -0.929),
     (2014.69, -0.926), (2014.70, -0.904), (2014.74, -0.897), (2014.77, -0.886), (2014.78, -0.904),
     (2014.81, -0.882), (2014.83, -0.878), (2014.87, -0.876), (2014.91, -0.878), (2014.94, -0.875),
     (2014.96, -0.865), (2014.99, -0.849), (2015.01, -0.831), (2015.03, -0.839), (2015.06, -0.865),
     (2015.09, -0.884), (2015.13, -0.897), (2015.16, -0.907), (2015.21, -0.914), (2015.24, -0.923),
     (2015.28, -0.936), (2015.32, -0.939), (2015.36, -0.926), (2015.39, -0.939), (2015.42, -0.949),
     (2015.45, -0.955), (2015.49, -0.963), (2015.52, -0.982), (2015.56, -0.977), (2015.58, -0.952),
     (2015.61, -0.934), (2015.64, -0.943), (2015.65, -0.917), (2015.69, -0.907), (2015.72, -0.884),
     (2015.75, -0.880), (2015.79, -0.875), (2015.83, -0.881), (2015.89, -0.889), (2015.93, -0.875),
     (2015.97, -0.871), (2015.99, -0.881), (2016.01, -0.836), (2016.03, -0.855), (2016.06, -0.842),
     (2016.09, -0.868), (2016.11, -0.838), (2016.14, -0.861), (2016.17, -0.890), (2016.19, -0.907),
     (2016.23, -0.917), (2016.27, -0.919), (2016.29, -0.894), (2016.33, -0.884), (2016.35, -0.882),
     (2016.37, -0.900), (2016.41, -0.899), (2016.43, -0.892), (2016.44, -0.865)],
    [(2016.60, -0.909), (2016.63, -0.904), (2016.65, -0.894), (2016.68, -0.892), (2016.71, -0.878),
     (2016.75, -0.861), (2016.79, -0.839), (2016.81, -0.849), (2016.84, -0.842), (2016.86, -0.846),
     (2016.90, -0.849), (2016.94, -0.853), (2016.98, -0.846), (2017.01, -0.858), (2017.04, -0.871),
     (2017.06, -0.884), (2017.09, -0.881), (2017.12, -0.882), (2017.14, -0.881), (2017.18, -0.890),
     (2017.20, -0.904), (2017.24, -0.897), (2017.28, -0.884), (2017.29, -0.904), (2017.32, -0.890),
     (2017.34, -0.904), (2017.37, -0.892), (2017.40, -0.900), (2017.42, -0.907), (2017.44, -0.914),
     (2017.47, -0.928), (2017.48, -0.910), (2017.51, -0.907), (2017.54, -0.884), (2017.56, -0.875),
     (2017.59, -0.861), (2017.62, -0.875), (2017.64, -0.871), (2017.67, -0.875), (2017.70, -0.858),
     (2017.74, -0.856), (2017.76, -0.846), (2017.79, -0.829), (2017.83, -0.826), (2017.85, -0.817),
     (2017.87, -0.842), (2017.89, -0.820), (2017.92, -0.807), (2017.94, -0.792), (2017.97, -0.797),
     (2018.00, -0.807), (2018.03, -0.812), (2018.07, -0.822), (2018.11, -0.839), (2018.13, -0.829),
     (2018.15, -0.839), (2018.19, -0.836), (2018.21, -0.855), (2018.23, -0.871), (2018.27, -0.890),
     (2018.29, -0.897), (2018.33, -0.904), (2018.37, -0.910), (2018.39, -0.917), (2018.41, -0.897),
     (2018.43, -0.894), (2018.47, -0.881), (2018.50, -0.890), (2018.53, -0.868), (2018.54, -0.863),
     (2018.57, -0.881), (2018.59, -0.884), (2018.60, -0.887), (2018.63, -0.975)]]

all_series = [seismic, water_model, vigg_mmno, vigg_cavi, vigg_salb,
              mmno_salb, mmno_cavi, salb_cavi]

# ---------------- tidy table ----------------
rows = []
for name, segments in zip(series_names, all_series):
    for seg_id, seg in enumerate(segments):
        for t, v in seg:
            rows.append({"series": name, "segment": seg_id, "year": t, "dvv": v})
df = pd.DataFrame(rows)

# ---------------- style ----------------
plt.rcParams.update({
    "font.family": "cmss10",
    "mathtext.fontset": "cm",
    "font.size": 11,
    "axes.unicode_minus": True,
})

W, H, DPI = 1348, 1345, 150
fig = plt.figure(figsize=(W / DPI, H / DPI), dpi=DPI)
ax = fig.add_axes([118 / W, 1 - 1305 / H, (1320.4 - 118) / W, (1305 - 13) / H])

palette = dict(zip(series_names, series_colors))
sns.lineplot(data=df, x="year", y="dvv", hue="series", units="segment",
             estimator=None, hue_order=series_names, palette=palette,
             linewidth=1.3, legend=False, sort=False, ax=ax)

ax.axvline(event_year, color="black", linestyle=":", linewidth=1.0, zorder=5)

ax.set_xlim(2009.48, 2019.0)
ax.set_ylim(-1.037, 0.2145)
ax.set_xticks(x_ticks)
ax.set_xticklabels([str(y) for y in x_ticks])
ax.set_yticks(y_ticks)
ax.yaxis.set_major_formatter(FuncFormatter(lambda v, p: r"$%.1f$" % v))
ax.tick_params(axis="x", labelsize=11.5, pad=4.5)
ax.tick_params(axis="y", labelsize=11)
ax.grid(True, color="#b0b0b0", linewidth=0.8)
ax.set_xlabel("")
ax.set_ylabel("Velocity variation (%)", fontsize=11)
ax.yaxis.set_label_coords(-0.0645, 0.478)

handles = [Line2D([], [], color=c, linewidth=1.0) for c in series_colors]
ax.legend(handles, series_names, title=r"$\delta v/v$", loc="lower left",
          fontsize=11.5, title_fontsize=11.5, labelspacing=0.44,
          handlelength=2.1)

fig.savefig("out.png", dpi=DPI)
